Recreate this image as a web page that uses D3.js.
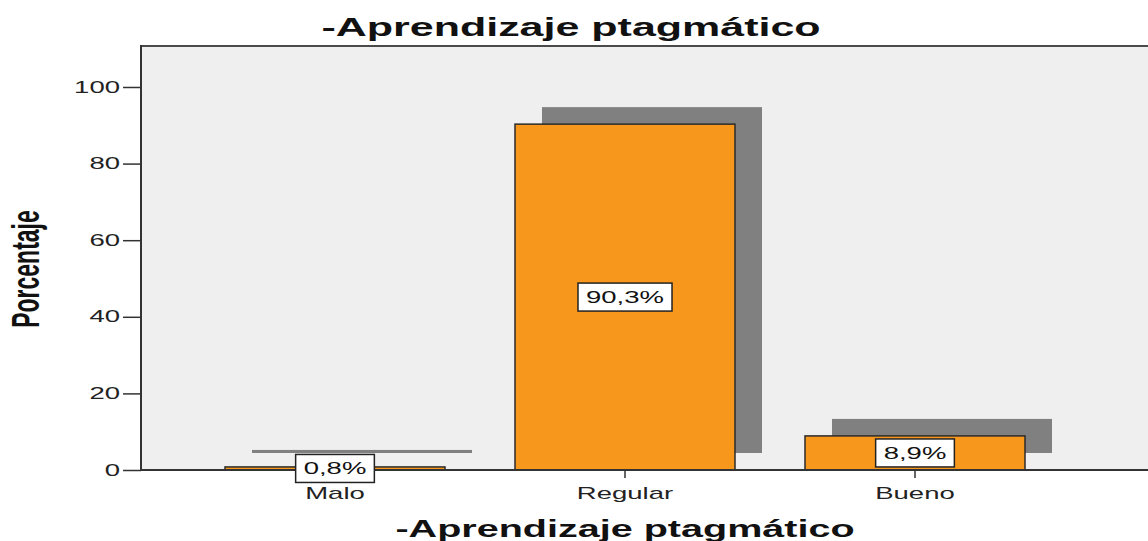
<!DOCTYPE html>
<html>
<head>
<meta charset="utf-8">
<script src="https://cdn.jsdelivr.net/npm/d3@7"></script>
<style>
  html, body { margin: 0; padding: 0; background: #ffffff; }
  svg { display: block; font-family: "Liberation Sans", Arial, sans-serif; }
</style>
</head>
<body>
<svg id="chart" width="1148" height="541"></svg>
<script>
// ---- data ----
const categories = ["Malo", "Regular", "Bueno"];
const values = [0.8, 90.3, 8.9];
const valueLabels = ["0,8%", "90,3%", "8,9%"];
const yTicks = [0, 20, 40, 60, 80, 100];
const titleText = "-Aprendizaje ptagmático";
const xTitleText = "-Aprendizaje ptagmático";
const yTitleText = "Porcentaje";

// ---- layout ----
const W = 1148, H = 541;
const SX = 1.72;               // horizontal stretch of the original image
const plot = { left: 141, top: 46, right: 1148, bottom: 470 };
const shadowDX = 27, shadowDY = -17;

const svg = d3.select("#chart");

const x = d3.scaleBand()
  .domain(categories)
  .range([190, 1060])
  .paddingInner(0.2414)
  .paddingOuter(0.1207);

const y = d3.scaleLinear()
  .domain([0, 110.7])
  .range([plot.bottom, plot.top]);

// background
svg.append("rect")
  .attr("x", plot.left).attr("y", plot.top)
  .attr("width", plot.right - plot.left).attr("height", plot.bottom - plot.top)
  .attr("fill", "#efefef");

// shadows
svg.append("g").selectAll("rect").data(values).join("rect")
  .attr("x", (d, i) => x(categories[i]) + shadowDX)
  .attr("y", d => y(d) + shadowDY)
  .attr("width", x.bandwidth())
  .attr("height", d => y(0) - y(d))
  .attr("fill", "#808080");

// bars
svg.append("g").selectAll("rect").data(values).join("rect")
  .attr("x", (d, i) => x(categories[i]))
  .attr("y", d => y(d))
  .attr("width", x.bandwidth())
  .attr("height", d => y(0) - y(d))
  .attr("fill", "#f7981d")
  .attr("stroke", "#2b2b2b")
  .attr("stroke-width", 1.5);

// frame lines
svg.append("line")
  .attr("x1", plot.left).attr("x2", plot.right)
  .attr("y1", plot.top).attr("y2", plot.top)
  .attr("stroke", "#4a4a4a").attr("stroke-width", 2);

// y axis
const yAxis = svg.append("g")
  .attr("transform", `translate(${plot.left},0)`)
  .call(d3.axisLeft(y).tickValues(yTicks).tickSize(18).tickPadding(3));
yAxis.select(".domain").remove();
yAxis.selectAll(".tick line").attr("stroke", "#333").attr("stroke-width", 1.5);
yAxis.selectAll(".tick text")
  .attr("font-family", "Liberation Sans, Arial, sans-serif")
  .attr("font-size", 16)
  .attr("fill", "#222")
  .attr("x", -21 / SX)
  .attr("transform", `scale(${SX},1)`);
svg.append("line")
  .attr("x1", plot.left).attr("x2", plot.left)
  .attr("y1", plot.top - 1).attr("y2", plot.bottom + 1)
  .attr("stroke", "#333").attr("stroke-width", 2);

// x axis
const xAxis = svg.append("g")
  .attr("transform", `translate(0,${plot.bottom})`)
  .call(d3.axisBottom(x).tickSize(8));
xAxis.select(".domain").remove();
xAxis.selectAll(".tick line").attr("stroke", "#333").attr("stroke-width", 1.5);
xAxis.selectAll(".tick text")
  .attr("font-family", "Liberation Sans, Arial, sans-serif")
  .attr("font-size", 16)
  .attr("fill", "#222")
  .attr("y", 29).attr("dy", 0)
  .attr("transform", `scale(${SX},1)`);
svg.append("line")
  .attr("x1", plot.left).attr("x2", plot.right)
  .attr("y1", plot.bottom).attr("y2", plot.bottom)
  .attr("stroke", "#333").attr("stroke-width", 2);

// value labels
const lab = svg.append("g").selectAll("g").data(values).join("g")
  .attr("transform", (d, i) => `translate(${x(categories[i]) + x.bandwidth() / 2},${y(d / 2)})`);
lab.append("rect").attr("fill", "#fff").attr("stroke", "#222").attr("stroke-width", 1.5);
lab.append("text")
  .attr("font-size", 16)
  .attr("fill", "#111")
  .attr("text-anchor", "middle")
  .attr("dy", "0.36em")
  .attr("transform", `scale(${SX},1)`)
  .text((d, i) => valueLabels[i]);
lab.each(function () {
  const g = d3.select(this);
  const w = g.select("text").node().getComputedTextLength() * SX + 16;
  g.select("rect").attr("x", -w / 2).attr("y", -14).attr("width", w).attr("height", 28);
});

// title
svg.append("text")
  .attr("transform", `translate(571,36) scale(${SX},1)`)
  .attr("text-anchor", "middle")
  .attr("font-size", 25).attr("font-weight", "bold").attr("fill", "#111")
  .text(titleText);

// x title
svg.append("text")
  .attr("transform", `translate(625,537) scale(${SX},1)`)
  .attr("text-anchor", "middle")
  .attr("font-size", 23).attr("font-weight", "bold").attr("fill", "#111")
  .text(xTitleText);

// y title
svg.append("text")
  .attr("transform", `translate(39,269) rotate(-90) scale(1,${SX})`)
  .attr("text-anchor", "middle")
  .attr("font-size", 23).attr("font-weight", "bold").attr("fill", "#111")
  .text(yTitleText);
</script>
</body>
</html>
